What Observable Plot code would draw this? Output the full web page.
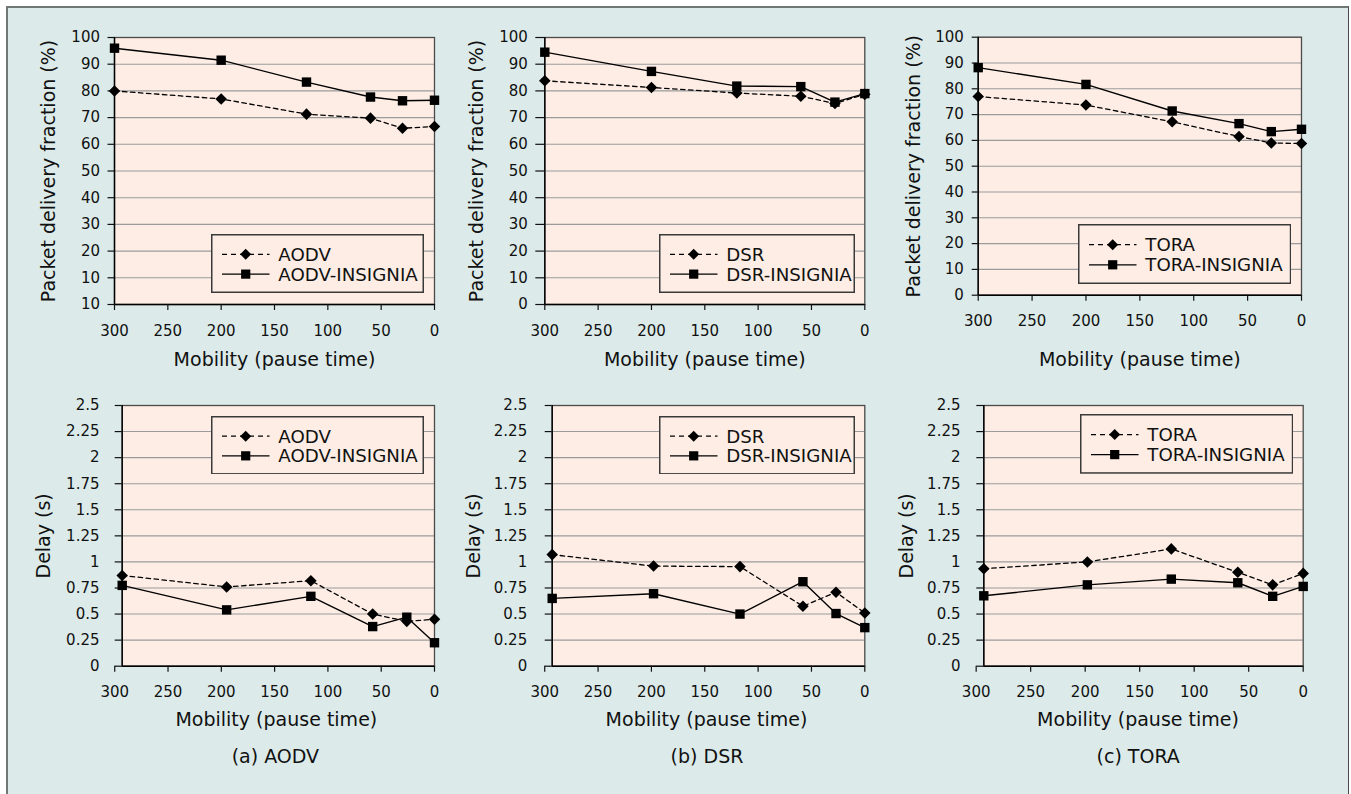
<!DOCTYPE html>
<html>
<head>
<meta charset="utf-8">
<script src="https://cdn.jsdelivr.net/npm/d3@7"></script>
<script src="https://cdn.jsdelivr.net/npm/@observablehq/plot@0.6"></script>
<style>
  html, body { margin: 0; padding: 0; background: #ffffff; }
  #page { position: relative; width: 1351px; height: 794px; overflow: hidden; font-family: "DejaVu Sans", sans-serif; }
  #outer { position: absolute; left: 6px; top: 6px; width: 1340px; height: 800px; background: #dcebea;
           border-left: 2px solid #6f7876; border-top: 2px solid #6f7876; border-right: 1px solid #4a4a4a; }
  .panel { position: absolute; }
  .panel svg { overflow: visible; }
  .legend { position: absolute; }
</style>
</head>
<body>
<div id="page"><div id="outer"></div></div>
<script>
// ---------- tick values and labels ----------
const xTicks = [300, 250, 200, 150, 100, 50, 0];
const pdfTicks = [0, 10, 20, 30, 40, 50, 60, 70, 80, 90, 100];
const pdfTickLabelsAODV = ["10", "10", "20", "30", "40", "50", "60", "70", "80", "90", "100"];
const pdfTickLabels = ["0", "10", "20", "30", "40", "50", "60", "70", "80", "90", "100"];
const delayTicks = [0, 0.25, 0.5, 0.75, 1, 1.25, 1.5, 1.75, 2, 2.25, 2.5];
const delayTickLabels = ["0", "0.25", "0.5", "0.75", "1", "1.25", "1.5", "1.75", "2", "2.25", "2.5"];

// ---------- series: packet delivery fraction (%) ----------
const aodvPdfPause = [300, 200, 120, 60, 30, 0];
const aodvPdf = [80, 77, 71.3, 69.8, 66, 66.7];
const aodvInsigniaPdf = [96, 91.5, 83.3, 77.7, 76.3, 76.5];

const dsrPdfPause = [300, 200, 120, 60, 28, 0];
const dsrPdf = [83.8, 81.3, 79.2, 78, 75.3, 78.7];
const dsrInsigniaPdf = [94.5, 87.3, 81.8, 81.6, 75.8, 79];

const toraPdfPause = [300, 200, 120, 58, 28, 0];
const toraPdf = [77, 73.7, 67.2, 61.5, 59, 58.8];
const toraInsigniaPdf = [88.2, 81.7, 71.4, 66.5, 63.4, 64.3];

// ---------- series: delay (s) ----------
const aodvDelayPause = [293, 195, 116, 58, 26, 0];
const aodvDelay = [0.87, 0.76, 0.82, 0.5, 0.43, 0.45];
const aodvInsigniaDelay = [0.775, 0.54, 0.67, 0.38, 0.47, 0.225];

const dsrDelayPause = [293, 198, 117, 58, 27, 0];
const dsrDelay = [1.07, 0.96, 0.955, 0.575, 0.71, 0.51];
const dsrInsigniaDelay = [0.65, 0.695, 0.5, 0.81, 0.505, 0.37];

const toraDelayPause = [293, 198, 121, 60, 28, 0];
const toraDelay = [0.935, 1.0, 1.125, 0.9, 0.78, 0.89];
const toraInsigniaDelay = [0.675, 0.78, 0.835, 0.8, 0.67, 0.765];

// ---------- texts ----------
const xTitle = "Mobility (pause time)";
const pdfTitle = "Packet delivery fraction (%)";
const delayTitle = "Delay (s)";
const captions = ["(a) AODV", "(b) DSR", "(c) TORA"];

// ---------- layout / style config ----------
const PEACH = "#fdede4";
const FONT = "DejaVu Sans";
const TICK_FS = 15;
const TITLE_FS = 19;
const LEGEND_FS = 18.2;

const panels = [
  { left: 0, top: 0, width: 440, height: 380, mL: 114, mR: 6, mT: 37, mB: 76,
    xDomain: [300, 0], yDomain: [0, 100], yTicks: pdfTicks, yLabels: pdfTickLabelsAODV,
    yTickSize: 6.5, yTickPad: 8, xTickPad: 15, yTitle: pdfTitle, yTitleDx: -65.6, xTitleDy: 55, xTitleDx: 0,
    pause: aodvPdfPause, base: aodvPdf, ins: aodvInsigniaPdf },
  { left: 440, top: 0, width: 440, height: 380, mL: 104.3, mR: 15.7, mT: 37, mB: 76,
    xDomain: [300, 0], yDomain: [0, 100], yTicks: pdfTicks, yLabels: pdfTickLabels,
    yTickSize: 9, yTickPad: 8, xTickPad: 15, yTitle: pdfTitle, yTitleDx: -67.6, xTitleDy: 55, xTitleDx: 0,
    pause: dsrPdfPause, base: dsrPdf, ins: dsrInsigniaPdf },
  { left: 880, top: 0, width: 471, height: 380, mL: 97.7, mR: 50, mT: 36.7, mB: 85.3,
    xDomain: [300, 0], yDomain: [0, 100], yTicks: pdfTicks, yLabels: pdfTickLabels,
    yTickSize: 6, yTickPad: 8.4, xTickPad: 14.3, yTitle: pdfTitle, yTitleDx: -64.7, xTitleDy: 64.3, xTitleDx: 0,
    pause: toraPdfPause, base: toraPdf, ins: toraInsigniaPdf },
  { left: 0, top: 380, width: 440, height: 414, mL: 121.7, mR: 6, mT: 25, mB: 128.3,
    xDomain: [293, 0], yDomain: [0, 2.5], yTicks: delayTicks, yLabels: delayTickLabels,
    yTickSize: 7, yTickPad: 15.7, xTickPad: 14.3, yTitle: delayTitle, yTitleDx: -78, xTitleDy: 53.3, xTitleDx: -2,
    caption: captions[0], captionDy: 91, captionDx: -3,
    pause: aodvDelayPause, base: aodvDelay, ins: aodvInsigniaDelay },
  { left: 440, top: 380, width: 440, height: 414, mL: 111.7, mR: 15.7, mT: 25, mB: 128.3,
    xDomain: [293, 0], yDomain: [0, 2.5], yTicks: delayTicks, yLabels: delayTickLabels,
    yTickSize: 7, yTickPad: 18, xTickPad: 14.3, yTitle: delayTitle, yTitleDx: -78.7, xTitleDy: 53.3, xTitleDx: -2,
    caption: captions[1], captionDy: 91, captionDx: -1.5,
    pause: dsrDelayPause, base: dsrDelay, ins: dsrInsigniaDelay },
  { left: 880, top: 380, width: 471, height: 414, mL: 103.3, mR: 48.3, mT: 25, mB: 128.3,
    xDomain: [293, 0], yDomain: [0, 2.5], yTicks: delayTicks, yLabels: delayTickLabels,
    yTickSize: 7, yTickPad: 16.3, xTickPad: 14.3, yTitle: delayTitle, yTitleDx: -76.6, xTitleDy: 53.3, xTitleDx: -5.5,
    caption: captions[2], captionDy: 91, captionDx: -5.3,
    pause: toraDelayPause, base: toraDelay, ins: toraInsigniaDelay }
];

const legends = [
  { left: 211, top: 234, width: 213, height: 59, names: ["AODV", "AODV-INSIGNIA"] },
  { left: 659, top: 234, width: 196, height: 59, names: ["DSR", "DSR-INSIGNIA"] },
  { left: 1077.7, top: 224, width: 213.3, height: 60, names: ["TORA", "TORA-INSIGNIA"] },
  { left: 211, top: 415.7, width: 213, height: 58.6, names: ["AODV", "AODV-INSIGNIA"] },
  { left: 659, top: 415.7, width: 196, height: 58.6, names: ["DSR", "DSR-INSIGNIA"] },
  { left: 1080, top: 414, width: 213.3, height: 59.7, names: ["TORA", "TORA-INSIGNIA"] }
];

const page = document.getElementById("page");

panels.forEach(p => {
  const baseRows = p.pause.map((x, i) => ({ x, y: p.base[i] }));
  const insRows = p.pause.map((x, i) => ({ x, y: p.ins[i] }));
  const labelMap = new Map(p.yTicks.map((t, i) => [t, p.yLabels[i]]));
  const marks = [
    Plot.frame({ fill: PEACH, stroke: null }),
    Plot.ruleY(p.yTicks, { stroke: "#9b9b9b", strokeWidth: 1.1 }),
    Plot.frame({ stroke: "#4a4a4a", strokeWidth: 1.3 }),
    Plot.ruleY([p.yDomain[0]], { stroke: "#000", strokeWidth: 1.4 }),
    Plot.ruleX([p.xDomain[0]], { stroke: "#000", strokeWidth: 1.4 }),
    Plot.axisY(p.yTicks, { tickSize: p.yTickSize, tickPadding: p.yTickPad, tickFormat: d => labelMap.get(d),
      label: null, fontSize: TICK_FS, strokeWidth: 1.2 }),
    Plot.axisX(xTicks, { tickSize: 6, tickPadding: p.xTickPad, tickFormat: d => String(d),
      label: null, fontSize: TICK_FS, strokeWidth: 1.2 }),
    Plot.line(baseRows, { x: "x", y: "y", stroke: "#000", strokeWidth: 1.3, strokeDasharray: "4.5,3.5" }),
    Plot.line(insRows, { x: "x", y: "y", stroke: "#000", strokeWidth: 1.4 }),
    Plot.dot(baseRows, { x: "x", y: "y", symbol: "diamond2", r: 5.2, fill: "#000", stroke: null }),
    Plot.dot(insRows, { x: "x", y: "y", symbol: "square", r: 5.3, fill: "#000", stroke: null }),
    Plot.text([xTitle], { text: d => d, frameAnchor: "bottom", textAnchor: "middle", dy: p.xTitleDy, dx: p.xTitleDx,
      lineAnchor: "middle", fontSize: TITLE_FS, fill: "#111" }),
    Plot.text([p.yTitle], { text: d => d, frameAnchor: "left", textAnchor: "middle", rotate: -90, dx: p.yTitleDx,
      lineAnchor: "middle", fontSize: TITLE_FS, fill: "#111" })
  ];
  if (p.caption) {
    marks.push(Plot.text([p.caption], { text: d => d, frameAnchor: "bottom", textAnchor: "middle", dy: p.captionDy,
      dx: p.captionDx, lineAnchor: "middle", fontSize: TITLE_FS, fill: "#111" }));
  }
  const chart = Plot.plot({
    width: p.width, height: p.height,
    marginLeft: p.mL, marginRight: p.mR, marginTop: p.mT, marginBottom: p.mB,
    x: { domain: p.xDomain },
    y: { domain: p.yDomain },
    style: { background: "none", fontFamily: FONT, color: "#111", overflow: "visible" },
    marks
  });
  const div = document.createElement("div");
  div.className = "panel";
  div.style.left = p.left + "px";
  div.style.top = p.top + "px";
  div.appendChild(chart);
  page.appendChild(div);
});

// ---------- legends (HTML-positioned SVG boxes) ----------
legends.forEach(L => {
  const svg = d3.select(page).append("svg")
    .attr("class", "legend")
    .style("left", L.left + "px").style("top", L.top + "px")
    .attr("width", L.width).attr("height", L.height)
    .style("font-family", FONT);
  svg.append("rect").attr("x", 0.75).attr("y", 0.75)
    .attr("width", L.width - 1.5).attr("height", L.height - 1.5)
    .attr("fill", PEACH).attr("stroke", "#3a3a3a").attr("stroke-width", 1.5);
  const rowY = [L.height * 0.345, L.height * 0.68];
  L.names.forEach((name, i) => {
    const y = rowY[i];
    svg.append("line").attr("x1", 11).attr("x2", 58.5).attr("y1", y).attr("y2", y)
      .attr("stroke", "#000").attr("stroke-width", 1.3)
      .attr("stroke-dasharray", i === 0 ? "5,4" : null);
    if (i === 0) {
      svg.append("path").attr("d", `M34.7,${y - 5.5}L40.2,${y}L34.7,${y + 5.5}L29.2,${y}Z`).attr("fill", "#000");
    } else {
      svg.append("rect").attr("x", 34.7 - 4.6).attr("y", y - 4.6).attr("width", 9.2).attr("height", 9.2).attr("fill", "#000");
    }
    svg.append("text").attr("x", 67.3).attr("y", y).attr("dy", "0.36em")
      .attr("font-size", LEGEND_FS).attr("fill", "#111").text(name);
  });
});
</script>
</body>
</html>
